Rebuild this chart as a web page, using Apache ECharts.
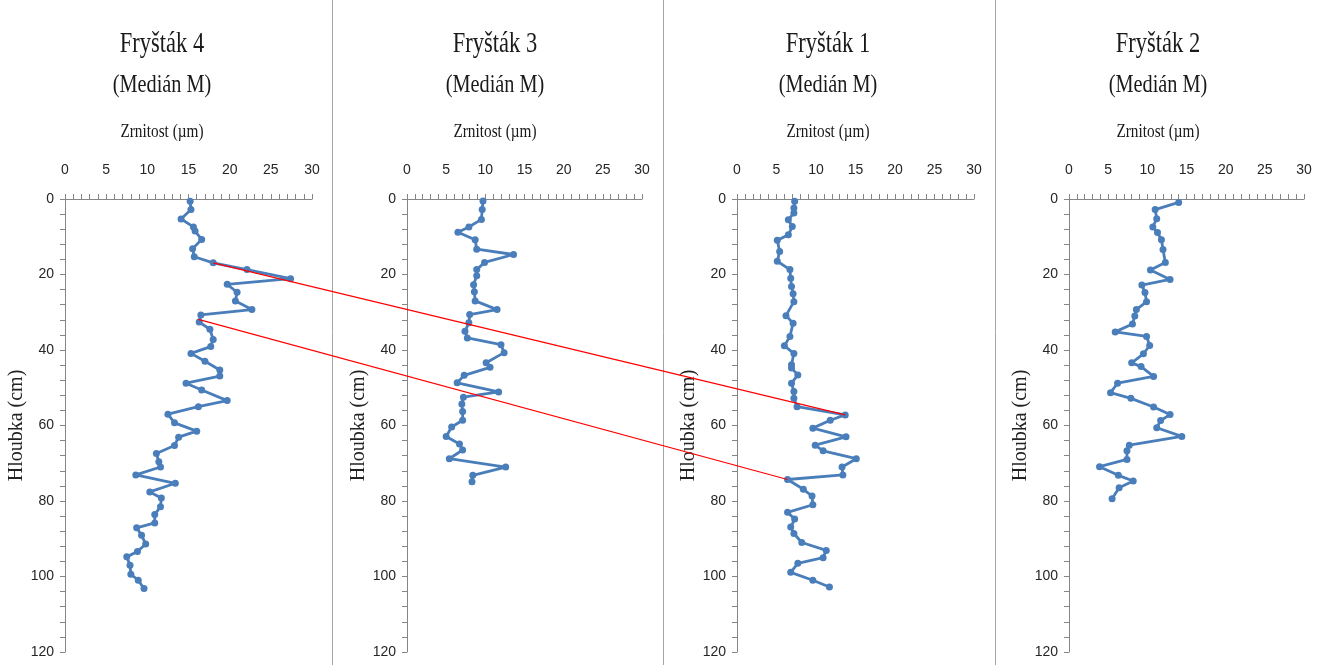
<!DOCTYPE html>
<html>
<head>
<meta charset="utf-8">
<title>Fryšták – medián zrnitosti</title>
<script src="https://cdn.jsdelivr.net/npm/echarts@6/dist/echarts.min.js"></script>
<style>
  html, body { margin: 0; padding: 0; background: #fff; }
  #main { width: 1329px; height: 665px; }
</style>
</head>
<body>
<div id="main"></div>
<script>
// názvy profilů (pořadí panelů zleva)
const profiles = ["Fryšták 4", "Fryšták 3", "Fryšták 1", "Fryšták 2"];

// Fryšták 4 – hloubka (cm) a medián (µm)
const depth4 = [0.6, 2.8, 5.3, 7.4, 8.5, 10.7, 13.2, 15.3, 16.9, 18.7, 21.1, 22.6, 24.7, 27.0, 29.3, 30.7, 32.6, 34.5, 37.2, 39.1, 40.9, 43.0, 45.3, 46.9, 48.8, 50.6, 53.4, 55.0, 57.0, 59.3, 61.5, 63.1, 65.3, 67.4, 69.6, 71.0, 73.1, 75.3, 77.6, 79.2, 81.5, 83.6, 85.8, 87.1, 89.1, 91.4, 93.4, 94.8, 97.0, 99.4, 101.0, 103.2];
const median4 = [15.2, 15.3, 14.1, 15.6, 15.8, 16.6, 15.5, 15.7, 18.0, 22.1, 27.4, 19.7, 20.9, 20.7, 22.7, 16.5, 16.3, 17.6, 18.0, 17.7, 15.3, 17.0, 18.8, 18.8, 14.7, 16.6, 19.7, 16.2, 12.5, 13.3, 16.0, 13.8, 13.3, 11.1, 11.4, 11.6, 8.6, 13.4, 10.3, 11.7, 11.6, 10.9, 10.9, 8.7, 9.3, 9.8, 8.8, 7.5, 7.9, 8.0, 8.9, 9.6];

// Fryšták 3
const depth3 = [0.5, 2.8, 5.4, 7.4, 8.8, 10.8, 13.3, 14.7, 16.8, 18.7, 20.3, 22.7, 24.6, 27.0, 29.3, 30.6, 32.8, 35.0, 36.8, 38.6, 40.7, 43.4, 44.6, 46.7, 48.7, 51.1, 52.5, 54.3, 56.3, 58.6, 60.4, 62.9, 64.9, 66.5, 68.8, 71.0, 73.2, 74.9];
const median3 = [9.7, 9.6, 9.5, 7.9, 6.5, 8.7, 8.9, 13.6, 9.9, 8.9, 8.9, 8.5, 8.6, 8.7, 11.5, 8.0, 7.9, 7.4, 7.7, 12.0, 12.4, 10.1, 10.6, 7.3, 6.4, 11.7, 7.2, 7.0, 7.1, 7.1, 5.7, 5.0, 6.7, 7.1, 5.4, 12.6, 8.4, 8.3];

// Fryšták 1
const depth1 = [0.6, 2.4, 3.7, 5.5, 7.3, 9.5, 10.9, 13.9, 16.5, 18.7, 21.0, 23.2, 25.1, 27.2, 30.9, 32.9, 36.4, 38.9, 40.9, 43.9, 44.8, 46.6, 48.8, 51.0, 52.8, 55.0, 57.2, 58.6, 60.7, 63.0, 65.2, 66.7, 68.8, 71.0, 73.1, 74.3, 76.9, 78.7, 81.0, 83.0, 84.8, 86.9, 88.6, 91.0, 93.1, 95.0, 96.5, 98.9, 101.0, 102.8];
const median1 = [7.3, 7.2, 7.2, 6.5, 7.0, 6.5, 5.1, 5.4, 5.1, 6.7, 6.8, 6.9, 7.1, 7.2, 6.2, 7.1, 6.7, 6.0, 7.2, 6.9, 6.9, 7.7, 6.9, 7.2, 7.2, 7.6, 13.7, 11.8, 9.6, 13.8, 9.9, 10.9, 15.1, 13.3, 13.4, 6.4, 8.4, 9.5, 9.6, 6.4, 7.3, 6.8, 7.2, 8.2, 11.3, 10.9, 7.7, 6.8, 9.6, 11.7];

// Fryšták 2
const depth2 = [0.9, 2.8, 5.2, 7.4, 8.9, 10.8, 13.4, 16.8, 18.8, 21.3, 22.8, 24.8, 27.2, 29.3, 31.0, 33.1, 35.2, 36.4, 38.8, 41.0, 43.4, 44.4, 47.0, 48.8, 51.3, 52.8, 55.1, 57.1, 58.7, 60.6, 62.9, 65.2, 66.7, 69.0, 70.9, 73.2, 74.7, 76.5, 79.4];
const median2 = [14.0, 11.0, 11.2, 10.7, 11.3, 11.8, 12.0, 12.3, 10.4, 12.9, 9.3, 9.7, 9.9, 8.6, 8.4, 8.1, 5.9, 9.9, 10.3, 9.5, 8.0, 9.2, 10.8, 6.2, 5.3, 7.9, 10.8, 12.9, 11.7, 11.2, 14.4, 7.7, 7.4, 7.4, 3.9, 6.3, 8.2, 6.4, 5.5];

// korelační spojnice: [panel, medián, hloubka]
const linkStart = [[0, 18.0, 16.9], [0, 16.2, 31.9]];
const linkEnd = [[2, 13.7, 57.2], [2, 6.4, 74.3]];

const depths = [depth4, depth3, depth1, depth2];
const medians = [median4, median3, median1, median2];

// rozložení panelů
const gridLeft = [65, 407, 737, 1069];
const gridWidth = [247, 235, 237, 235];
const titleX = [162, 495, 828, 1158];
const separatorX = [332.5, 663.5, 995.5];

const serif = '"Liberation Serif", "Times New Roman", serif';
const narrow = '"Liberation Sans Narrow", "Liberation Sans", Arial, sans-serif';
const axisGray = "#868686";
const blue = "#4a7ebb";

const chart = echarts.init(document.getElementById("main"));

const grids = [], xAxes = [], yAxes = [], series = [];
profiles.forEach((name, i) => {
  grids.push({ left: gridLeft[i], top: 199, width: gridWidth[i], height: 453 });
  xAxes.push({
    gridIndex: i, type: "value", position: "top",
    min: 0, max: 30, interval: 1,
    axisLine: { show: true, lineStyle: { color: axisGray } },
    axisTick: { show: true, length: 5, lineStyle: { color: axisGray } },
    axisLabel: {
      margin: 22, color: "#262626", fontSize: 14, fontFamily: narrow,
      formatter: v => (v % 5 === 0 ? String(v) : "")
    },
    splitLine: { show: false }
  });
  yAxes.push({
    gridIndex: i, type: "value", inverse: true,
    min: 0, max: 120, interval: 4,
    name: "Hloubka (cm)", nameLocation: "middle", nameGap: 38,
    nameTextStyle: { fontFamily: serif, fontSize: 20, color: "#222" },
    axisLine: { show: true, lineStyle: { color: axisGray } },
    axisTick: { show: true, length: 5, lineStyle: { color: axisGray } },
    axisLabel: {
      margin: 11, color: "#262626", fontSize: 14, fontFamily: narrow,
      formatter: v => (v % 20 === 0 ? String(v) : "")
    },
    splitLine: { show: false }
  });
  series.push({
    name: name, type: "line",
    xAxisIndex: i, yAxisIndex: i,
    data: depths[i].map((d, k) => [medians[i][k], d]),
    symbol: "circle", symbolSize: 7,
    lineStyle: { color: blue, width: 2.8 },
    itemStyle: { color: blue },
    z: 3
  });
});

// titulky a oddělovače panelů
const staticGraphic = [];
separatorX.forEach(x => {
  staticGraphic.push({
    type: "line", shape: { x1: x, y1: 0, x2: x, y2: 665 },
    style: { stroke: "#a6a6a6", lineWidth: 1 }, silent: true
  });
});
profiles.forEach((name, i) => {
  const t = (text, y, size, sx) => ({
    type: "text", x: titleX[i], y: y, scaleX: sx,
    style: {
      text: text, fontFamily: serif, fontSize: size, fill: "#1a1a1a",
      textAlign: "center", textVerticalAlign: "middle"
    }
  });
  staticGraphic.push(t(name, 44, 30, 0.75));
  staticGraphic.push(t("(Medián M)", 85, 26, 0.78));
  staticGraphic.push(t("Zrnitost (µm)", 132, 18, 0.85));
});

chart.setOption({
  animation: false,
  backgroundColor: "#fff",
  grid: grids,
  xAxis: xAxes,
  yAxis: yAxes,
  series: series,
  graphic: staticGraphic
});

// červené spojnice přes panely – poloha přes měřítka os
const links = linkStart.map((s, k) => {
  const e = linkEnd[k];
  const p1 = chart.convertToPixel({ gridIndex: s[0] }, [s[1], s[2]]);
  const p2 = chart.convertToPixel({ gridIndex: e[0] }, [e[1], e[2]]);
  return {
    type: "line", z: 100,
    shape: { x1: p1[0], y1: p1[1], x2: p2[0], y2: p2[1] },
    style: { stroke: "#ff0000", lineWidth: 1.2 }
  };
});
chart.setOption({ graphic: staticGraphic.concat(links) });
</script>
</body>
</html>
